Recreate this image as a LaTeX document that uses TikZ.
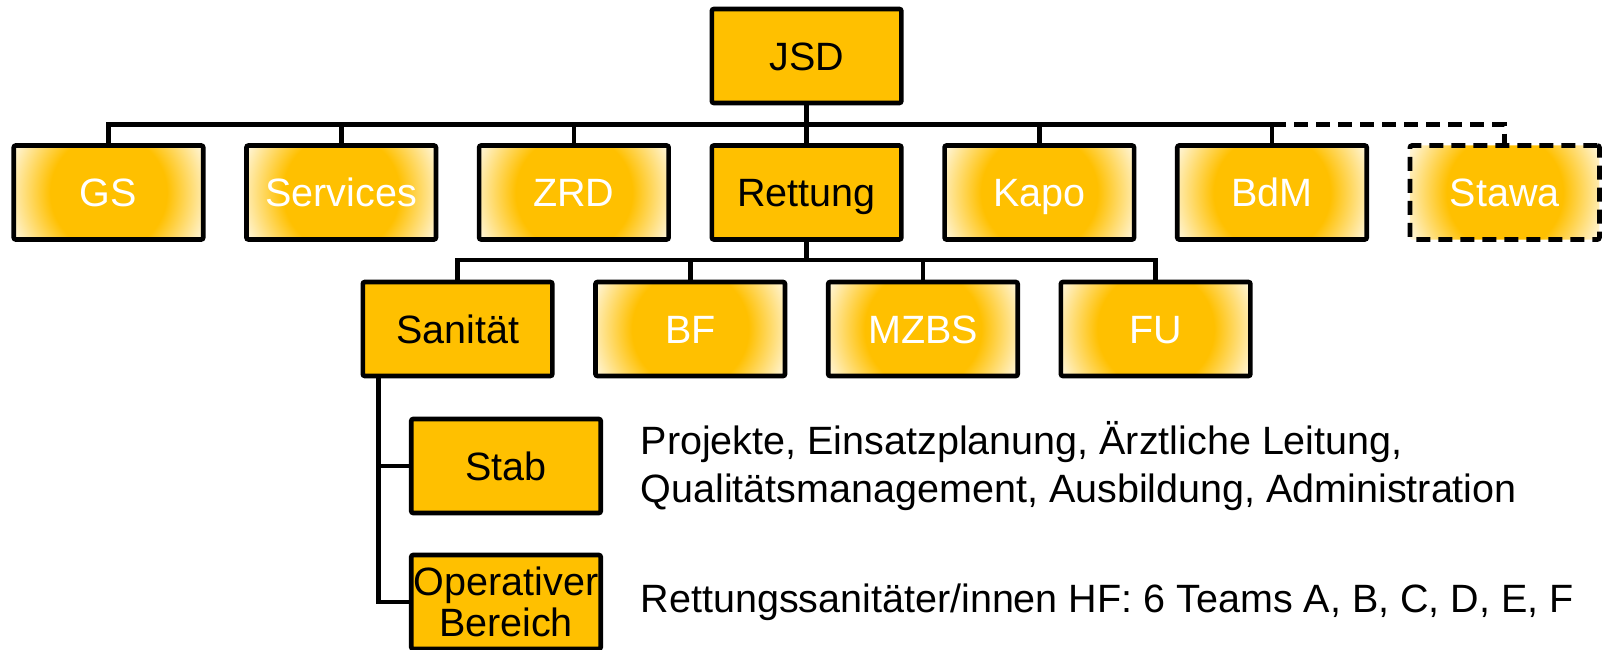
\documentclass[tikz,border=0pt]{standalone}
\usepackage{fontspec}
\setmainfont{Liberation Sans}
\definecolor{gold}{HTML}{FFC000}
\pgfdeclareradialshading{glowshade}{\pgfpointorigin}{color(0bp)=(gold); color(13bp)=(gold); color(25bp)=(white); color(50bp)=(white)}
\tikzset{
  box/.style={draw=black, line width=4.6pt, rounded corners=2pt,
    minimum width=189.5pt, minimum height=94pt, inner sep=0pt,
    font=\fontsize{39.5}{47}\selectfont, text height=28.8pt, text depth=0pt},
  solidbox/.style={box, fill=gold, text=black},
  glowbox/.style={box, text=white,
    path picture={\shade[shading=glowshade]
      (path picture bounding box.center) circle (112pt);}},
  conn/.style={draw=black, line width=4.6pt, line join=miter},
  dashconn/.style={conn, dash pattern=on 14pt off 8pt},
  desc/.style={font=\fontsize{39.5}{48.5}\selectfont, inner sep=0pt, anchor=west, align=left}
}
\begin{document}
\begin{tikzpicture}[x=1pt,y=1pt]
\fill[white] (0,0) rectangle (1603,-650);
\useasboundingbox (0,0) rectangle (1603,-650);

\node[solidbox] (JSD) at (806.6,-56) {JSD};

\node[glowbox] (GS) at (108.5,-192.5) {GS};
\node[glowbox] (Services) at (341.2,-192.5) {Services};
\node[glowbox] (ZRD) at (573.9,-192.5) {ZRD};
\node[solidbox] (Rettung) at (806.6,-192.5) {Rettung};
\node[glowbox] (Kapo) at (1039.3,-192.5) {Kapo};
\node[glowbox] (BdM) at (1272,-192.5) {BdM};
\node[glowbox, dash pattern=on 14pt off 8pt] (Stawa) at (1504.7,-192.5) {Stawa};

\node[solidbox] (Sanitat) at (457.55,-329) {Sanität};
\node[glowbox] (BF) at (690.25,-329) {BF};
\node[glowbox] (MZBS) at (922.95,-329) {MZBS};
\node[glowbox] (FU) at (1155.65,-329) {FU};

\node[solidbox] (Stab) at (506,-466) {Stab};
\node[solidbox, text height=, text depth=, align=center, font=\fontsize{39.5}{40.5}\selectfont] (Op) at (506,-602) {Operativer\\Bereich};

\node[desc] (StabText) at ([xshift=37.5pt]Stab.east) {Projekte, Einsatzplanung, Ärztliche Leitung,\\Qualitätsmanagement, Ausbildung, Administration};
\node[desc] (OpText) at ([xshift=37.5pt]Op.east) {Rettungssanitäter/innen HF: 6 Teams A, B, C, D, E, F};

% level 1 bus
\coordinate (b1) at (806.6,-124.3);
\draw[conn] (JSD.south) -- (b1);
\draw[conn] (GS.north) |- (b1) -| (BdM.north);
\draw[conn] (b1 -| Services.north) -- (Services.north);
\draw[conn] (b1 -| ZRD.north) -- (ZRD.north);
\draw[conn] (b1) -- (Rettung.north);
\draw[conn] (b1 -| Kapo.north) -- (Kapo.north);
\draw[dashconn] (b1 -| BdM.north) -| (Stawa.north);

% level 2 bus
\coordinate (b2) at (806.6,-260);
\draw[conn] (Rettung.south) -- (b2);
\draw[conn] (Sanitat.north) |- (b2) -| (FU.north);
\draw[conn] (b2 -| BF.north) -- (BF.north);
\draw[conn] (b2 -| MZBS.north) -- (MZBS.north);

% Sanitaet branch
\coordinate (s0) at ([xshift=17.75pt]Sanitat.south west);
\draw[conn] (s0) |- (Op.west);
\draw[conn] (s0 |- Stab.west) -- (Stab.west);
\end{tikzpicture}
\end{document}
